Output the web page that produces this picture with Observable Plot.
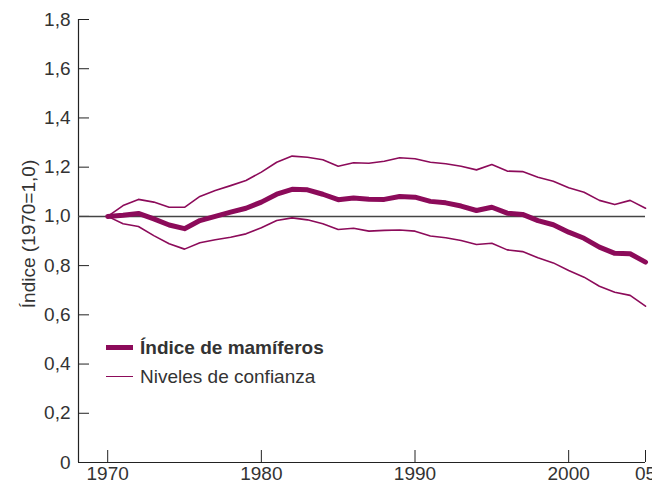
<!DOCTYPE html>
<html>
<head>
<meta charset="utf-8">
<script src="https://cdn.jsdelivr.net/npm/d3@7"></script>
<script src="https://cdn.jsdelivr.net/npm/@observablehq/plot@0.6"></script>
<style>
  html, body { margin: 0; padding: 0; background: #fff; }
  #wrap { position: relative; width: 652px; height: 483px; overflow: hidden; font-family: "Liberation Sans", Arial, sans-serif; }
  #legend { position: absolute; left: 106px; top: 333px; color: #333; font-size: 19px; }
  .row { display: flex; align-items: center; height: 29px; }
  .sw { width: 27px; margin-right: 7px; background: #8c0b5a; }
</style>
</head>
<body>
<div id="wrap"></div>
<script>
const years = d3.range(1970, 2006);
const indexValues = [1.000, 1.005, 1.012, 0.990, 0.965, 0.950, 0.983, 1.000, 1.017, 1.033,
  1.058, 1.090, 1.110, 1.108, 1.090, 1.068, 1.075, 1.070, 1.069, 1.081,
  1.078, 1.061, 1.055, 1.042, 1.024, 1.037, 1.013, 1.008, 0.983, 0.966,
  0.936, 0.911, 0.875, 0.850, 0.848, 0.814];
const upperValues = [1.000, 1.044, 1.069, 1.058, 1.037, 1.037, 1.081, 1.105, 1.125, 1.146,
  1.180, 1.220, 1.245, 1.240, 1.230, 1.204, 1.218, 1.216, 1.224, 1.238,
  1.234, 1.220, 1.214, 1.204, 1.189, 1.211, 1.184, 1.182, 1.159, 1.143,
  1.116, 1.098, 1.065, 1.048, 1.065, 1.033];
const lowerValues = [1.000, 0.970, 0.959, 0.922, 0.889, 0.867, 0.893, 0.905, 0.915, 0.929,
  0.954, 0.983, 0.994, 0.986, 0.970, 0.947, 0.952, 0.940, 0.943, 0.945,
  0.940, 0.920, 0.913, 0.902, 0.886, 0.891, 0.864, 0.857, 0.832, 0.811,
  0.780, 0.753, 0.716, 0.692, 0.679, 0.635];
const xTicks = [1970, 1980, 1990, 2000, 2005];
const xTickLabels = ["1970", "1980", "1990", "2000", "05"];
const yTicks = [0, 0.2, 0.4, 0.6, 0.8, 1.0, 1.2, 1.4, 1.6, 1.8];
const seriesNames = ["Índice de mamíferos", "Niveles de confianza"];
const yLabel = "Índice (1970=1,0)";

const color = "#8c0b5a";
const idx = years.map((y, i) => ({year: y, v: indexValues[i]}));
const up = years.map((y, i) => ({year: y, v: upperValues[i]}));
const lo = years.map((y, i) => ({year: y, v: lowerValues[i]}));

const chart = Plot.plot({
  width: 652,
  height: 483,
  marginLeft: 78,
  marginRight: 7,
  marginTop: 19,
  marginBottom: 21,
  style: {fontFamily: "Liberation Sans, Arial, sans-serif", fontSize: "19px", color: "#333", background: "#fff"},
  x: {domain: [1968.1, 2005]},
  y: {domain: [0, 1.8]},
  marks: [
    Plot.axisX({ticks: xTicks, tickSize: -12, tickPadding: 16, tickFormat: d => xTickLabels[xTicks.indexOf(d)], label: null, stroke: "#222", fill: "#333"}),
    Plot.axisY({ticks: yTicks, tickSize: -11, tickPadding: 19, tickFormat: d => d === 0 ? "0" : d.toFixed(1).replace(".", ","), label: null, stroke: "#222", fill: "#333"}),
    Plot.text([yLabel], {text: d => d, frameAnchor: "left", textAnchor: "middle", rotate: -90, dx: -50, dy: -7, fill: "#333", fontSize: 19}),
    Plot.ruleX([1968.1], {stroke: "#222", strokeWidth: 1.2}),
    Plot.ruleY([0], {stroke: "#222", strokeWidth: 1.2}),
    Plot.ruleY([1], {stroke: "#444", strokeWidth: 1.5}),
    Plot.line(up, {x: "year", y: "v", stroke: color, strokeWidth: 1.6}),
    Plot.line(lo, {x: "year", y: "v", stroke: color, strokeWidth: 1.6}),
    Plot.line(idx, {x: "year", y: "v", stroke: color, strokeWidth: 5})
  ]
});
const wrap = document.getElementById("wrap");
wrap.appendChild(chart);
const legend = document.createElement("div");
legend.id = "legend";
legend.innerHTML = `
  <div class="row"><span class="sw" style="height:5px"></span><b>${seriesNames[0]}</b></div>
  <div class="row"><span class="sw" style="height:1.5px"></span><span>${seriesNames[1]}</span></div>`;
wrap.appendChild(legend);
</script>
</body>
</html>
